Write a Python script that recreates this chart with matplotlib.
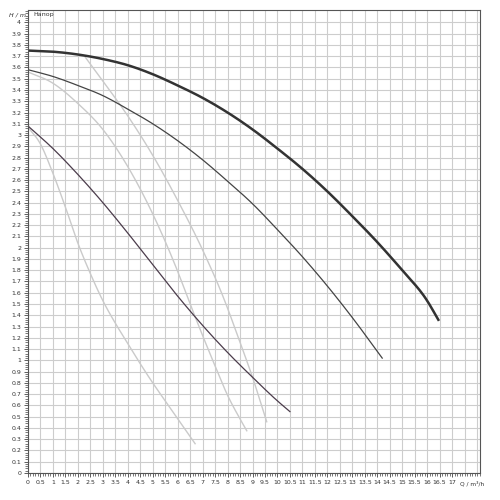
import matplotlib.pyplot as plt
from matplotlib.ticker import MultipleLocator
import numpy as np

# pump curves, Q in m3/h, H in m
q_a = [0, 1, 2, 3, 4, 5, 6, 7, 8, 9, 10, 11, 12, 13, 14, 15, 16, 16.45]
h_a = [3.75, 3.74, 3.715, 3.675, 3.62, 3.54, 3.44, 3.33, 3.20, 3.05, 2.88, 2.70, 2.50, 2.28, 2.05, 1.80, 1.53, 1.36]

q_b = [0, 1, 2, 3, 4, 5, 6, 7, 8, 9, 10, 11, 12, 13, 14.2]
h_b = [3.58, 3.52, 3.44, 3.35, 3.23, 3.10, 2.95, 2.78, 2.59, 2.39, 2.16, 1.92, 1.66, 1.38, 1.02]

q_c = [0, 1, 2, 3, 4, 5, 6, 7, 8, 9, 10, 10.5]
h_c = [3.08, 2.88, 2.65, 2.40, 2.13, 1.85, 1.57, 1.31, 1.07, 0.85, 0.64, 0.545]

# light curves
q_l1 = [2.3, 3, 4, 5, 6, 7, 7.83, 8.5, 9, 9.57]
h_l1 = [3.69, 3.48, 3.17, 2.82, 2.42, 1.98, 1.56, 1.16, 0.85, 0.455]

q_l2 = [0, 1, 2, 3, 4, 5, 6, 6.5, 7, 7.5, 8, 8.5, 8.77]
h_l2 = [3.56, 3.46, 3.28, 3.05, 2.72, 2.30, 1.79, 1.50, 1.22, 0.95, 0.69, 0.48, 0.375]

q_l3 = [0, 0.5, 1, 1.5, 2, 2.5, 3, 3.5, 4, 4.5, 5, 5.5, 6, 6.7]
h_l3 = [3.07, 2.92, 2.66, 2.36, 2.04, 1.77, 1.53, 1.33, 1.15, 0.97, 0.80, 0.64, 0.48, 0.26]


def smooth(q, h, n=20):
    # cubic hermite through the read points, just so the line is not jagged
    q = np.asarray(q, float)
    h = np.asarray(h, float)
    m = np.gradient(h, q)
    xs, ys = [], []
    for i in range(len(q) - 1):
        dx = q[i + 1] - q[i]
        t = np.linspace(0, 1, n, endpoint=False)
        h00 = 2 * t**3 - 3 * t**2 + 1
        h10 = t**3 - 2 * t**2 + t
        h01 = -2 * t**3 + 3 * t**2
        h11 = t**3 - t**2
        xs.append(q[i] + t * dx)
        ys.append(h00 * h[i] + h10 * dx * m[i] + h01 * h[i + 1] + h11 * dx * m[i + 1])
    xs.append([q[-1]])
    ys.append([h[-1]])
    return np.concatenate(xs), np.concatenate(ys)


fig = plt.figure(figsize=(5, 5), dpi=100)
ax = fig.add_axes([0.056, 0.054, 0.904, 0.926])

for q, h in [(q_l1, h_l1), (q_l2, h_l2), (q_l3, h_l3)]:
    ax.plot(*smooth(q, h), color="#cacaca", linewidth=1)
ax.plot(*smooth(q_c, h_c), color="#4b3c4b", linewidth=0.9)
ax.plot(*smooth(q_b, h_b), color="#444444", linewidth=0.9)
ax.plot(*smooth(q_a, h_a), color="#333333", linewidth=1.8)

ax.set_xlim(0, 18.12)
ax.set_ylim(0, 4.11)
ax.xaxis.set_minor_locator(MultipleLocator(0.1))
ax.yaxis.set_minor_locator(MultipleLocator(0.02))

xt = np.arange(0, 17.01, 0.5)
ax.set_xticks(xt)
ax.set_xticklabels([f"{v:g}" for v in xt])
yt = np.arange(0, 4.001, 0.1)
ax.set_yticks(yt)
ax.set_yticklabels([f"{v:.1f}".rstrip("0").rstrip(".") for v in yt])

ax.tick_params(which="major", length=3, width=0.6, color="#444444", labelsize=4.5, labelcolor="#333333", pad=2)
ax.tick_params(which="minor", length=2, width=0.5, color="#444444")

# grid every 0.5 m3/h and every 0.1 m, plus the 17.5 / 18 lines past the labels
ax.grid(which="major", color="#cdcdcd", linewidth=0.8)
for xv in [17.5, 18.0]:
    ax.axvline(xv, color="#cdcdcd", linewidth=0.8, zorder=0)
for s in ax.spines.values():
    s.set_color("#555555")
    s.set_linewidth(0.8)

ax.text(-0.004, 4.07, "H / m", transform=ax.get_yaxis_transform(), ha="right", va="center",
        fontsize=4.5, style="italic", color="#333333")
ax.text(0.2, 4.07, "Напор", fontsize=4.5, va="center", color="#333333")
ax.text(17.32, -0.018, "Q / m³/h", transform=ax.get_xaxis_transform(), ha="left", va="top",
        fontsize=4.2, color="#333333")

fig.savefig("out.png", dpi=100)
